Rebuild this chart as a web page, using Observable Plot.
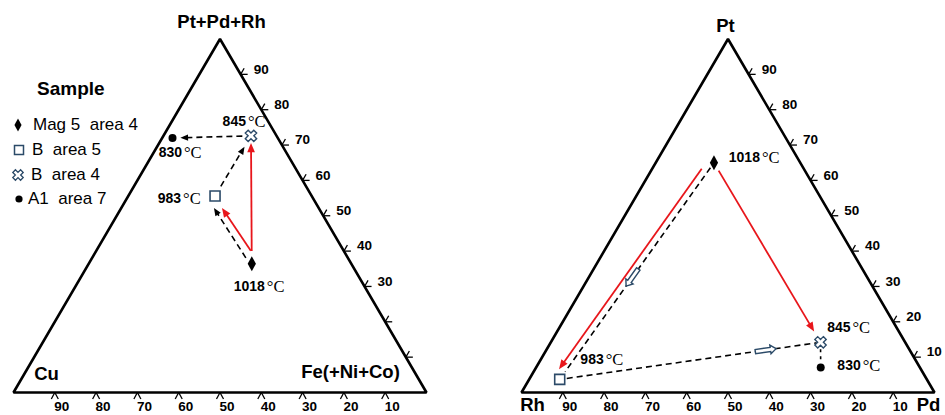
<!DOCTYPE html>
<html><head><meta charset="utf-8">
<script src="https://cdn.jsdelivr.net/npm/d3@7"></script>
<script src="https://cdn.jsdelivr.net/npm/@observablehq/plot@0.6"></script>
<style>
html,body{margin:0;padding:0;background:#fff;}
#chart{position:relative;width:945px;height:415px;overflow:hidden;background:#fff;}
#chart svg{display:block;}
#legend{position:absolute;left:0;top:0;width:0;height:0;font-family:"Liberation Sans",Arial,sans-serif;color:#000;}
.lg-title{position:absolute;font-weight:bold;font-size:19px;line-height:22px;white-space:pre;}
.lg-text{position:absolute;font-size:17px;line-height:20px;white-space:pre;}
.lg-sym{position:absolute;overflow:visible;}
</style></head><body>
<div id="chart"></div>
<script>
// ---------------- DATA ----------------
const sampleNames = ["Mag 5  area 4", "B  area 5", "B  area 4", "A1  area 7"];
const temperatures = [1018, 983, 845, 830];
// Left diagram: Pt+Pd+Rh (top), Cu (left), Fe(+Ni+Co) (right) — fractions
const leftPGE = [0.364, 0.556, 0.726, 0.720];
const leftCu  = [0.241, 0.234, 0.062, 0.255];
const leftFe  = [0.395, 0.210, 0.212, 0.025];
// Right diagram: Pt (top), Rh (left), Pd (right) — fractions
const rightPt = [0.650, 0.037, 0.142, 0.071];
const rightRh = [0.209, 0.889, 0.205, 0.240];
const rightPd = [0.141, 0.074, 0.653, 0.689];
const leftVertexNames = ["Pt+Pd+Rh", "Cu", "Fe(+Ni+Co)"];
const rightVertexNames = ["Pt", "Rh", "Pd"];
const baseTickLabels = [90, 80, 70, 60, 50, 40, 30, 20, 10];
const sideTickValues = [90, 80, 70, 60, 50, 40, 30, 20, 10];
const leftSideLabels = [90, 80, 70, 60, 50, 40, 30];
const rightSideLabels = [90, 80, 70, 60, 50, 40, 30, 20, 10];
const unitLabel = "°C";
// arrows between samples: [from, to, kind]
const leftArrows = [[2, 3, "dash"], [1, 2, "dash"], [0, 1, "dash"], [0, 2, "red"], [0, 1, "red"]];
const rightArrows = [[0, 1, "red"], [0, 1, "dash"], [0, 2, "red"], [1, 2, "dash"], [2, 3, "dot"]];
const rightBlockArrows = [[0, 1], [1, 2]];

// ---------------- LAYOUT / STYLE ----------------
const K = 413;                 // pixels per ternary base unit
const H = 353.5 / K;           // triangle height (units)
const leftOrigin = 0, rightOrigin = 508 / K;
const u = p => p / K;
const RED = "#e8161b", NAVY = "#2b4a68";
const FONT = "Liberation Sans, Arial, sans-serif";
const SERIF = "Liberation Serif, Times New Roman, serif";

function tern(origin, top, right) { return {x: origin + right + top / 2, y: top * H}; }
const leftPts = temperatures.map((t, i) => ({i, temp: t, ...tern(leftOrigin, leftPGE[i], leftFe[i])}));
const rightPts = temperatures.map((t, i) => ({i, temp: t, ...tern(rightOrigin, rightPt[i], rightPd[i])}));

// arrow geometry (t0, t1, start offset px, end offset px) — styling
const leftArrowGeom = [[0.11, 0.90, 0, 0], [0.16, 0.82, 0, 0], [0.105, 0.87, 2.4, 6.7], [0.10, 0.945, 0, 0], [0.154, 0.821, -5.3, -0.4]];
const rightArrowGeom = [[0.045, 0.97, -6.5, -6.5], [0.023, 0.965, 0, 0], [0.044, 0.94, 0, 0], [0.027, 0.985, 0, 0], [0.28, 0.72, 0, 0]];
const rightBlockT = [0.53, 0.79];

function segment(P, a, b, t0, t1, o0, o1, headPx) {
  const A = P[a], B = P[b];
  const dx = B.x - A.x, dy = B.y - A.y, len = Math.hypot(dx, dy);
  const nx = -dy / len, ny = dx / len;
  const x1 = A.x + dx * t0 + nx * u(o0), y1 = A.y + dy * t0 + ny * u(o0);
  const xt = A.x + dx * t1 + nx * u(o1), yt = A.y + dy * t1 + ny * u(o1);
  const sl = Math.hypot(xt - x1, yt - y1);
  const back = headPx ? u(headPx) / sl : 0;
  return {x1, y1, x2: xt - (xt - x1) * back, y2: yt - (yt - y1) * back, xt, yt,
          angle: Math.atan2(xt - x1, yt - y1) * 180 / Math.PI};
}
const segs = [];
leftArrows.forEach(([a, b, k], j) => { const g = leftArrowGeom[j]; segs.push({kind: k, head: true, ...segment(leftPts, a, b, ...g, k === "red" ? 5 : 4)}); });
rightArrows.forEach(([a, b, k], j) => { const g = rightArrowGeom[j]; segs.push({kind: k, head: k === "red", ...segment(rightPts, a, b, ...g, k === "red" ? 6 : 0)}); });
const blocks = rightBlockArrows.map(([a, b], j) => {
  const A = rightPts[a], B = rightPts[b], t = rightBlockT[j];
  return {x: A.x + (B.x - A.x) * t, y: A.y + (B.y - A.y) * t, angle: Math.atan2(B.x - A.x, B.y - A.y) * 180 / Math.PI};
});

// custom symbols
const rOf = s => Math.sqrt(s / Math.PI);
const symDiamond = {draw(c, s) { const r = rOf(s); c.moveTo(0, -r); c.lineTo(r * 0.55, 0); c.lineTo(0, r); c.lineTo(-r * 0.55, 0); c.closePath(); }};
const symSquare = {draw(c, s) { const r = rOf(s); c.rect(-r, -r, 2 * r, 2 * r); }};
const symCross = {draw(c, s) {
  const r = rOf(s), a = r * 0.34;
  const pts = [[-a,-r],[a,-r],[a,-a],[r,-a],[r,a],[a,a],[a,r],[-a,r],[-a,a],[-r,a],[-r,-a],[-a,-a]]
    .map(([x, y]) => [(x - y) / Math.SQRT2, (x + y) / Math.SQRT2]);
  c.moveTo(...pts[0]); pts.slice(1).forEach(p => c.lineTo(...p)); c.closePath();
}};
const symHead = {draw(c, s) { const r = rOf(s); c.moveTo(0, 0); c.lineTo(-0.45 * r, 1.1 * r); c.lineTo(0.45 * r, 1.1 * r); c.closePath(); }};
const symBlock = {draw(c, s) {
  const r = rOf(s);
  const pts = [[0,-r],[0.42*r,-0.45*r],[0.2*r,-0.45*r],[0.2*r,r],[-0.2*r,r],[-0.2*r,-0.45*r],[-0.42*r,-0.45*r]];
  c.moveTo(...pts[0]); pts.slice(1).forEach(p => c.lineTo(...p)); c.closePath();
}};
const sampleStyle = [
  {symbol: symDiamond, r: 7.5, fill: "black", stroke: "none"},
  {symbol: symSquare, r: 5, fill: "white", stroke: NAVY, strokeWidth: 1.6},
  {symbol: symCross, r: 6, fill: "white", stroke: NAVY, strokeWidth: 1.4},
  {symbol: "circle", r: 4, fill: "black", stroke: "none"}
];

// triangles
const tri = [];
for (const [origin, name] of [[leftOrigin, "L"], [rightOrigin, "R"]]) {
  tri.push({chart: name, ...tern(origin, 1, 0)}, {chart: name, ...tern(origin, 0, 0)}, {chart: name, ...tern(origin, 0, 1)});
}
// ticks
const tickLegs = [], tickTexts = [];
for (const [origin, labels] of [[leftOrigin, leftSideLabels], [rightOrigin, rightSideLabels]]) {
  baseTickLabels.forEach(v => {
    const p = tern(origin, 0, 1 - v / 100);
    tickLegs.push({x1: p.x, y1: p.y, x2: p.x - u(3.5), y2: p.y - u(6.5)}, {x1: p.x, y1: p.y, x2: p.x + u(3.5), y2: p.y - u(6.5)});
    tickTexts.push({x: p.x - u(0.5), y: p.y - u(14.5), text: String(v)});
  });
  sideTickValues.forEach(v => {
    const p = tern(origin, v / 100, 1 - v / 100);
    tickLegs.push({x1: p.x, y1: p.y, x2: p.x + u(7), y2: p.y}, {x1: p.x, y1: p.y, x2: p.x + u(3.5), y2: p.y + u(6.1)});
    if (labels.includes(v)) tickTexts.push({x: p.x + u(13), y: p.y + u(5), text: String(v)});
  });
}
// vertex labels
const vOff = [[1.5, -16.5], [33, -18], [-76, -20], [-2.5, -12.5], [11, 12.5], [-6, 12.5]];
const vertexLabels = [...leftVertexNames, ...rightVertexNames].map((name, j) => {
  const origin = j < 3 ? leftOrigin : rightOrigin, k = j % 3;
  const p = k === 0 ? tern(origin, 1, 0) : k === 1 ? tern(origin, 0, 0) : tern(origin, 0, 1);
  return {name, x: p.x + u(vOff[j][0]), y: p.y - u(vOff[j][1])};
});
// temperature labels (anchor = end of the number)
const leftLabOff = [[13, 23], [-34, 3], [-5, -14], [9.5, 15]];
const rightLabOff = [[46, -5], [44, -20], [30, -15], [40, -2]];
const tempLabels = [
  ...leftPts.map((p, i) => ({temp: p.temp, x: p.x + u(leftLabOff[i][0]), y: p.y - u(leftLabOff[i][1])})),
  ...rightPts.map((p, i) => ({temp: p.temp, x: p.x + u(rightLabOff[i][0]), y: p.y - u(rightLabOff[i][1])}))
];
const allPts = [...leftPts, ...rightPts];

const plot = Plot.plot({
  width: 945, height: 415, margin: 0,
  x: {domain: [-13 / K, 932 / K], axis: null},
  y: {domain: [-23 / K, 392 / K], axis: null},
  style: {background: "white", overflow: "visible"},
  marks: [
    Plot.line(tri, {x: "x", y: "y", z: "chart", curve: "linear-closed", stroke: "black", strokeWidth: 2.6, strokeLinejoin: "miter"}),
    Plot.link(tickLegs, {x1: "x1", y1: "y1", x2: "x2", y2: "y2", stroke: "black", strokeWidth: 1.3}),
    Plot.text(tickTexts, {x: "x", y: "y", text: "text", textAnchor: "start", fontFamily: FONT, fontWeight: "bold", fontSize: 13.5, fill: "black"}),
    Plot.text(vertexLabels, {x: "x", y: "y", text: "name", fontFamily: FONT, fontWeight: "bold", fontSize: 18.5, fill: "black"}),
    Plot.link(segs.filter(d => d.kind === "dash"), {x1: "x1", y1: "y1", x2: "x2", y2: "y2", stroke: "black", strokeWidth: 1.6, strokeDasharray: "6,4"}),
    Plot.link(segs.filter(d => d.kind === "dot"), {x1: "x1", y1: "y1", x2: "x2", y2: "y2", stroke: "black", strokeWidth: 1.6, strokeDasharray: "3,4"}),
    Plot.link(segs.filter(d => d.kind === "red"), {x1: "x1", y1: "y1", x2: "x2", y2: "y2", stroke: RED, strokeWidth: 1.8}),
    Plot.dot(segs.filter(d => d.head && d.kind === "dash"), {x: "xt", y: "yt", rotate: "angle", symbol: symHead, r: 7, fill: "black", stroke: "none"}),
    Plot.dot(segs.filter(d => d.head && d.kind === "red"), {x: "xt", y: "yt", rotate: "angle", symbol: symHead, r: 8.5, fill: RED, stroke: "none"}),
    Plot.dot(blocks, {x: "x", y: "y", rotate: "angle", symbol: symBlock, r: 10.5, fill: "white", stroke: NAVY, strokeWidth: 1.4}),
    ...sampleStyle.map((st, i) => Plot.dot(allPts.filter(d => d.i === i), {x: "x", y: "y", ...st})),
    Plot.text(tempLabels, {x: "x", y: "y", text: d => String(d.temp), textAnchor: "end", fontFamily: FONT, fontWeight: "bold", fontSize: 14, fill: "black"}),
    Plot.text(tempLabels, {x: "x", y: "y", text: () => unitLabel, textAnchor: "start", dx: 2, fontFamily: SERIF, fontSize: 16.5, fill: "black"})
  ]
});
const chart = document.getElementById("chart");
chart.appendChild(plot);

// legend (overlaid HTML, left side)
const legend = document.createElement("div");
legend.id = "legend";
chart.appendChild(legend);
const title = document.createElement("div");
title.className = "lg-title"; title.textContent = "Sample";
title.style.left = "37px"; title.style.top = "78px";
legend.appendChild(title);
const lgSym = [
  {symbol: symDiamond, r: 6.5, fill: "black", stroke: "none", sw: 0},
  {symbol: symSquare, r: 4.5, fill: "white", stroke: NAVY, sw: 1.5},
  {symbol: symCross, r: 5.5, fill: "white", stroke: NAVY, sw: 1.3},
  {symbol: d3.symbolCircle, r: 3.6, fill: "black", stroke: "none", sw: 0}
];
const lgPos = [[18, 125, 33], [19, 150, 32], [18, 175, 31], [19, 199, 28]];
sampleNames.forEach((name, i) => {
  const [sx, sy, tx] = lgPos[i], s = lgSym[i];
  const svg = d3.create("svg").attr("class", "lg-sym").attr("width", 20).attr("height", 20)
    .style("left", (sx - 10) + "px").style("top", (sy - 10) + "px");
  svg.append("path").attr("transform", "translate(10,10)")
    .attr("d", d3.symbol(s.symbol, s.r * s.r * Math.PI)())
    .attr("fill", s.fill).attr("stroke", s.stroke).attr("stroke-width", s.sw);
  legend.appendChild(svg.node());
  const t = document.createElement("div");
  t.className = "lg-text"; t.textContent = name;
  t.style.left = tx + "px"; t.style.top = (sy - 10) + "px";
  legend.appendChild(t);
});
</script>
</body></html>
